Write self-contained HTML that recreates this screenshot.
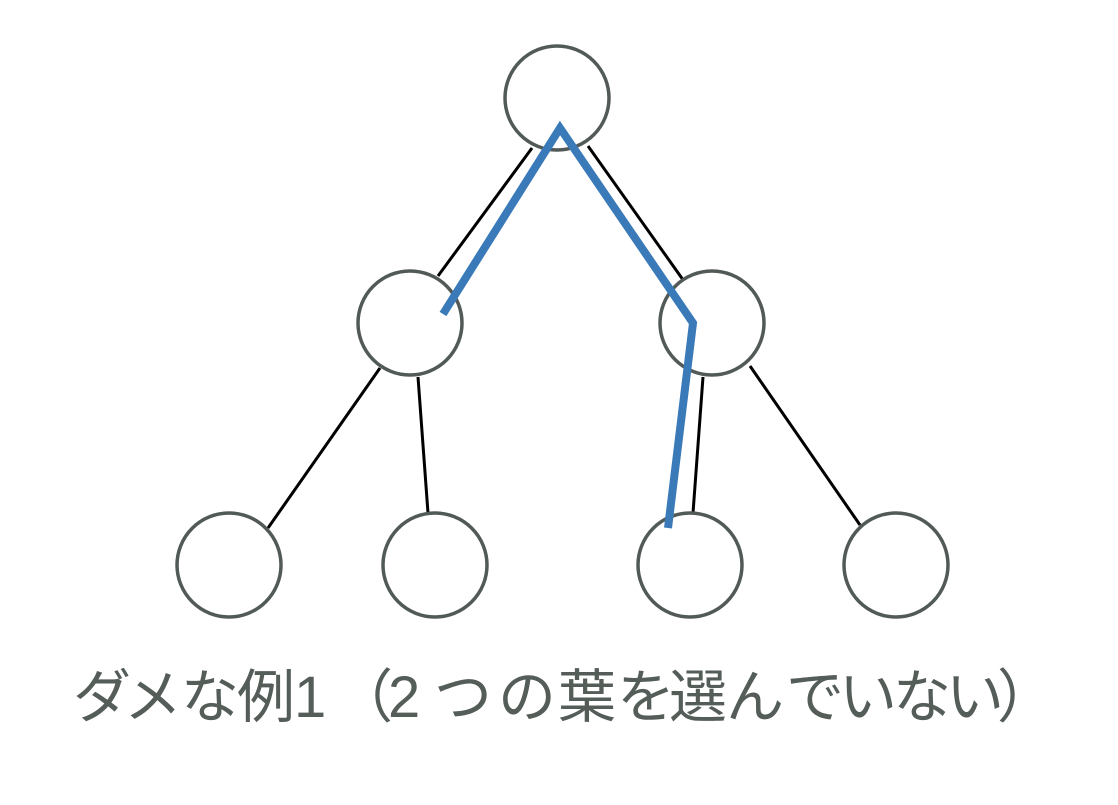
<!DOCTYPE html>
<html><head><meta charset="utf-8"><style>
html,body{margin:0;padding:0;background:#fff;}
</style></head><body>
<svg width="1118" height="800" xmlns="http://www.w3.org/2000/svg">
<g stroke="#000" stroke-width="3" fill="none">
<line x1="532" y1="148" x2="438" y2="276"/>
<line x1="588" y1="146" x2="686" y2="284"/>
<line x1="380" y1="368" x2="268" y2="528"/>
<line x1="418" y1="377" x2="428" y2="513"/>
<line x1="703" y1="377" x2="693" y2="513"/>
<line x1="750" y1="366" x2="860" y2="525"/>
</g>
<g stroke="#525a57" stroke-width="3.5" fill="#fff">
<circle cx="557" cy="98" r="52"/>
<circle cx="410" cy="323" r="52"/>
<circle cx="712" cy="323" r="52"/>
<circle cx="229" cy="565" r="52"/>
<circle cx="435" cy="565" r="52"/>
<circle cx="690" cy="565" r="52"/>
<circle cx="896" cy="565" r="52"/>
</g>
<polyline points="443,314 560,128 693,323 668,528" fill="none" stroke="#3a7ab8" stroke-width="8"/>
<text y="717" font-size="58" fill="#555d59" font-family="'Liberation Sans','Noto Sans CJK JP',sans-serif"><tspan x="73">ダ</tspan><tspan x="124">メ</tspan><tspan x="181">な</tspan><tspan x="237">例</tspan><tspan x="294">1</tspan><tspan x="335">（</tspan><tspan x="388">2</tspan><tspan x="434">つ</tspan><tspan x="498">の</tspan><tspan x="558">葉</tspan><tspan x="617">を</tspan><tspan x="669">選</tspan><tspan x="726">ん</tspan><tspan x="786">で</tspan><tspan x="839">い</tspan><tspan x="893">な</tspan><tspan x="946">い</tspan><tspan x="997">）</tspan></text>
</svg>
</body></html>
